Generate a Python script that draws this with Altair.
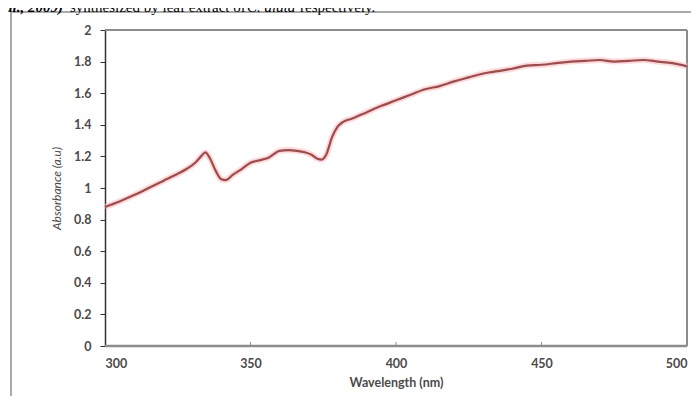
import altair as alt
import pandas as pd

# Data
wavelength = [300, 305, 310, 315, 320, 325, 328, 331, 333, 334.5, 336, 338, 340, 341.5,
              344, 347, 350, 353, 356, 360, 363, 366, 369, 371, 373, 374.5, 376, 378,
              380, 382, 385, 390, 395, 400, 405, 410, 415, 420, 425, 430, 435, 440,
              445, 450, 455, 460, 465, 470, 475, 480, 485, 490, 495, 500]
absorbance = [0.88, 0.915, 0.955, 1.00, 1.045, 1.09, 1.12, 1.16, 1.20, 1.225, 1.19, 1.11,
              1.055, 1.05, 1.085, 1.12, 1.16, 1.175, 1.19, 1.235, 1.24, 1.235, 1.225,
              1.21, 1.185, 1.18, 1.21, 1.32, 1.39, 1.42, 1.44, 1.48, 1.52, 1.555, 1.59,
              1.625, 1.645, 1.675, 1.70, 1.725, 1.74, 1.755, 1.775, 1.78, 1.79, 1.80,
              1.805, 1.81, 1.80, 1.805, 1.81, 1.80, 1.79, 1.77]
x_ticks = [300, 350, 400, 450, 500]
y_ticks = [0, 0.2, 0.4, 0.6, 0.8, 1.0, 1.2, 1.4, 1.6, 1.8, 2.0]
caption_parts = ["al., 2009)", "synthesized by leaf extract of", "C. alata", "respectively."]

df = pd.DataFrame({"wavelength": wavelength, "absorbance": absorbance})
one = pd.DataFrame({"k": [0]})

W, H = 582, 316
FONT = "Lato"
LBL = "#4a4a4a"

xs = alt.Scale(domain=[300, 500], nice=False)
ys = alt.Scale(domain=[0, 2], nice=False)

x_enc = alt.X("wavelength:Q", scale=xs, title="Wavelength (nm)",
              axis=alt.Axis(values=x_ticks, format="d", tickSize=0, labelPadding=11,
                            domain=False, labelFont=FONT, labelFontSize=12.5,
                            labelFontWeight="bold", labelColor=LBL,
                            titleFont=FONT, titleFontSize=12.5,
                            titleFontWeight="bold", titleColor=LBL,
                            titlePadding=7, grid=False))
y_enc = alt.Y("absorbance:Q", scale=ys, title="Absorbance (a.u)",
              axis=alt.Axis(values=y_ticks, format="~f", tickSize=5, tickColor="#333333",
                            domainColor="#333333", domainWidth=1.5, labelPadding=9,
                            labelFont=FONT, labelFontSize=12.5, labelFontWeight="bold",
                            labelColor=LBL,
                            titleFont=FONT, titleFontSize=12, titleFontStyle="italic",
                            titleFontWeight="normal", titleColor=LBL,
                            titlePadding=10, grid=False))

glow = alt.Chart(df).mark_line(interpolate="monotone", color="#f3c4c4",
                               strokeWidth=6, opacity=0.6).encode(x=x_enc, y=y_enc)
line = alt.Chart(df).mark_line(interpolate="monotone", color="#a8474a",
                               strokeWidth=2.2).encode(x=x_enc, y=y_enc)

# plot area frame (bottom axis line, top and right borders)
bottom_line = alt.Chart(one).mark_rule(color="#8c8c8c", strokeWidth=2.5).encode(
    x=alt.value(0), x2=alt.value(W), y=alt.value(H))
top_line = alt.Chart(one).mark_rule(color="#8c8c8c", strokeWidth=2).encode(
    x=alt.value(0), x2=alt.value(W), y=alt.value(0))
right_line = alt.Chart(one).mark_rule(color="#8c8c8c", strokeWidth=2).encode(
    x=alt.value(W), y=alt.value(0), y2=alt.value(H))

xt = pd.DataFrame({"t": x_ticks[1:-1]})
x_tickmarks = alt.Chart(xt).mark_rule(color="#8c8c8c", strokeWidth=1).encode(
    x=alt.X("t:Q", scale=xs), y=alt.value(H - 4), y2=alt.value(H))

# outer chart frame
frame = alt.Chart(one).mark_rect(fill="transparent", stroke="#a9a9a9",
                                 strokeWidth=2).encode(
    x=alt.value(-94), x2=alt.value(640), y=alt.value(-18), y2=alt.value(420))

# cut-off caption above the chart
cap_y = -18
cap1 = alt.Chart(one).mark_text(text=caption_parts[0], font="Liberation Serif",
                                fontSize=15, fontWeight="bold", fontStyle="italic",
                                align="left", baseline="alphabetic", color="#000").encode(
    x=alt.value(-100), y=alt.value(cap_y))
cap2 = alt.Chart(one).mark_text(text=caption_parts[1], font="Liberation Serif",
                                fontSize=15, align="left", baseline="alphabetic",
                                color="#000").encode(x=alt.value(-35), y=alt.value(cap_y))
cap3 = alt.Chart(one).mark_text(text=caption_parts[2], font="Liberation Serif",
                                fontSize=15, fontStyle="italic", align="left",
                                baseline="alphabetic", color="#000").encode(
    x=alt.value(142), y=alt.value(cap_y))
cap4 = alt.Chart(one).mark_text(text=caption_parts[3], font="Liberation Serif",
                                fontSize=15, align="left", baseline="alphabetic",
                                color="#000").encode(x=alt.value(195), y=alt.value(cap_y))

chart = alt.layer(frame, cap1, cap2, cap3, cap4, top_line, right_line, glow, line,
                  x_tickmarks, bottom_line).properties(
    width=W, height=H,
    autosize=alt.AutoSizeParams(type="none"),
    padding={"left": 97, "top": 22, "right": 4, "bottom": 50},
).configure_view(stroke=None).configure(background="white")

chart.save("out.html", embed_options={"renderer": "svg", "actions": False})
